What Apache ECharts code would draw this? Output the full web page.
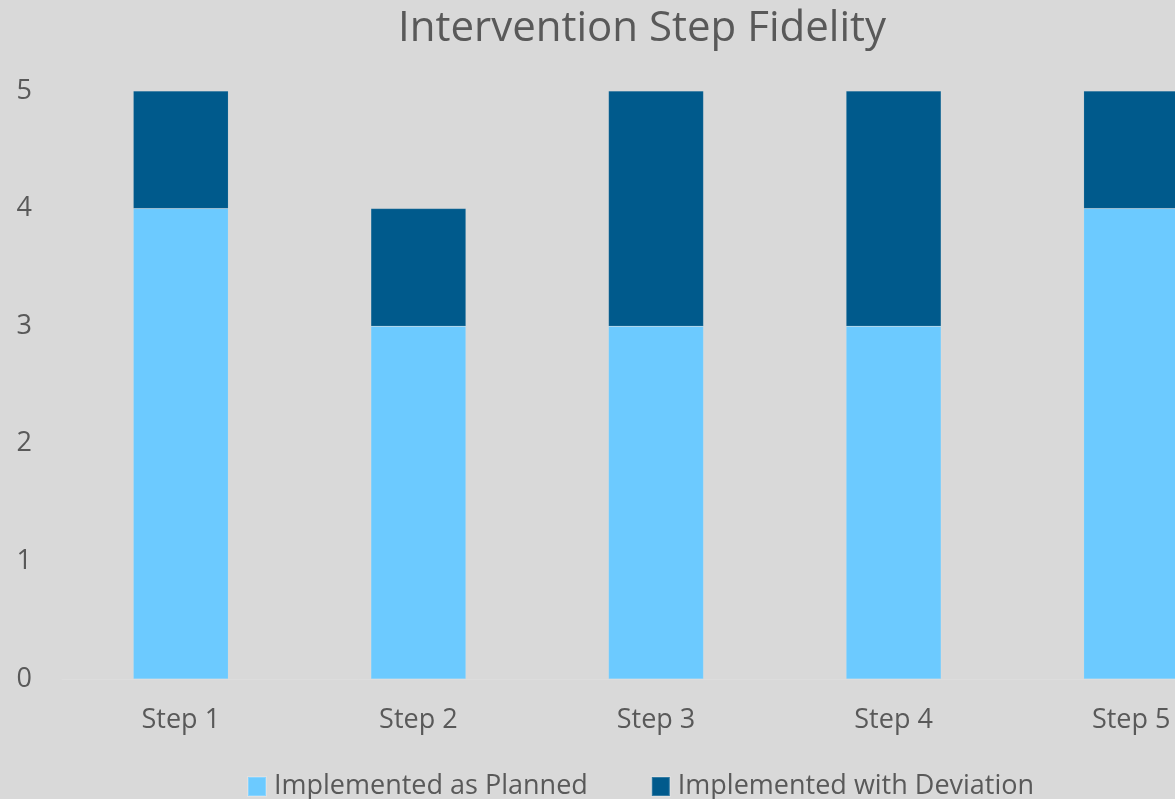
<!DOCTYPE html>
<html>
<head>
<meta charset="utf-8">
<script src="https://cdn.jsdelivr.net/npm/echarts@6/dist/echarts.min.js"></script>
<style>
html,body{margin:0;padding:0;background:#D9D9D9;overflow:hidden;width:1175px;height:799px;}
#chart{width:1250px;height:799px;}
</style>
</head>
<body>
<div id="chart"></div>
<script>
var categories = ['Step 1', 'Step 2', 'Step 3', 'Step 4', 'Step 5'];
var asPlanned = [4, 3, 3, 3, 4];
var withDeviation = [1, 1, 2, 2, 1];
var yTicks = [0, 1, 2, 3, 4, 5];

var FONT = '"Open Sans", sans-serif';
var chart = echarts.init(document.getElementById('chart'));
chart.setOption({
  backgroundColor: '#D9D9D9',
  animation: false,
  title: {
    text: 'Intervention Step Fidelity',
    left: 393, top: 3,
    textStyle: { color: '#595959', fontSize: 42, fontWeight: 'normal', fontFamily: FONT }
  },
  legend: {
    left: 242, top: 768,
    itemWidth: 18, itemHeight: 19, itemGap: 63,
    icon: 'rect',
    textStyle: { color: '#595959', fontSize: 27, fontFamily: FONT, padding: [0, 0, 0, 3] },
    data: ['Implemented as Planned', 'Implemented with Deviation']
  },
  grid: { left: 62, top: 91, right: 0, height: 588, containLabel: false },
  xAxis: {
    type: 'category',
    data: categories,
    axisLine: { show: true, lineStyle: { color: '#DDDDDD', width: 1 } },
    axisTick: { show: false },
    axisLabel: { color: '#595959', fontSize: 27, fontFamily: FONT, margin: 28 }
  },
  yAxis: {
    type: 'value',
    min: yTicks[0], max: yTicks[yTicks.length - 1], interval: 1,
    splitLine: { show: false },
    axisLine: { show: false },
    axisTick: { show: false },
    axisLabel: { color: '#595959', fontSize: 27, fontFamily: FONT, margin: 30 }
  },
  series: [
    {
      name: 'Implemented as Planned', type: 'bar', stack: 'total',
      data: asPlanned, barWidth: 95,
      itemStyle: { color: '#6CCAFF', borderColor: 'rgba(255,255,255,0.2)', borderWidth: 0.5 }
    },
    {
      name: 'Implemented with Deviation', type: 'bar', stack: 'total',
      data: withDeviation, barWidth: 95,
      itemStyle: { color: '#005A8C', borderColor: 'rgba(255,255,255,0.2)', borderWidth: 0.5 }
    }
  ]
});
</script>
</body>
</html>
